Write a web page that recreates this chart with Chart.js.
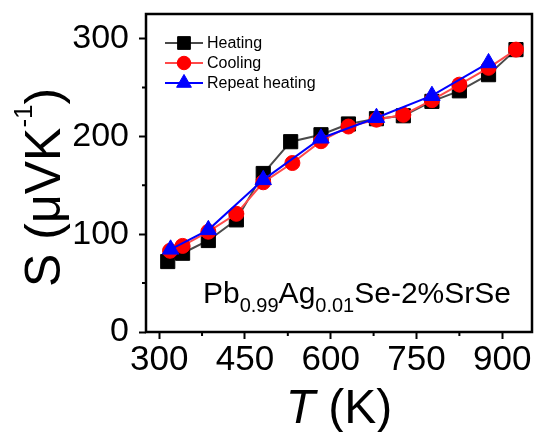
<!DOCTYPE html>
<html>
<head>
<meta charset="utf-8">
<script src="https://cdn.jsdelivr.net/npm/chart.js@4.4.1/dist/chart.umd.min.js"></script>
<style>
html,body{margin:0;padding:0;background:#fff;}
#wrap{width:538px;height:432px;}
</style>
</head>
<body>
<div id="wrap"><canvas id="c" width="538" height="432"></canvas></div>
<script>
// ---- data ----
const heatT   = [315, 341, 386, 435, 482, 530, 583, 631, 680, 727, 777, 825, 876, 924];
const heatS   = [72, 80.5, 93.5, 114.6, 162, 194.5, 201.6, 212.6, 218, 221, 235.7, 246.5, 263, 288.6];
const coolT   = [319, 341, 386, 435, 482, 533, 583, 631, 680, 727, 777, 825, 876, 924];
const coolS   = [83, 88, 102.5, 120.8, 153, 172.7, 195, 210, 217, 222, 237, 252.8, 270, 288.6];
const repT    = [320, 386, 482, 583, 680, 777, 876];
const repS    = [84.5, 104.4, 155.5, 198, 219, 241.5, 275];
const seriesNames = ['Heating', 'Cooling', 'Repeat heating'];
const xTicks = [300, 450, 600, 750, 900];
const xMinorTicks = [375, 525, 675, 825];
const yTicks = [0, 100, 200, 300];
const yMinorTicks = [50, 150, 250];

const FONT = "'Liberation Sans', Arial, sans-serif";
const pts = (xs, ys) => xs.map((x, i) => ({x: x, y: ys[i]}));

const styles = [
  {line: '#4a4a4a', fill: '#000000', style: 'rect', r: 10, order: 3},
  {line: '#ff4a4a', fill: '#ff0000', style: 'circle', r: 7.5, order: 2},
  {line: '#0000ff', fill: '#0000ff', style: 'triangle', r: 9.5, order: 1}
];
const dataSets = [pts(heatT, heatS), pts(coolT, coolS), pts(repT, repS)];

const noPad = s => { s.paddingTop = 0; s.paddingBottom = 0; s.paddingLeft = 0; s.paddingRight = 0; };

const decor = {
  id: 'decor',
  afterDraw(chart) {
    const ctx = chart.ctx;
    const a = chart.chartArea;
    const xs = chart.scales.x, ys = chart.scales.y;
    ctx.save();
    // frame
    ctx.strokeStyle = '#000';
    ctx.lineWidth = 2.5;
    ctx.strokeRect(a.left, a.top, a.right - a.left, a.bottom - a.top);
    // minor ticks
    ctx.lineWidth = 2;
    ctx.beginPath();
    yMinorTicks.forEach(v => { const p = ys.getPixelForValue(v); ctx.moveTo(a.left - 4, p); ctx.lineTo(a.left, p); });
    xMinorTicks.forEach(v => { const p = xs.getPixelForValue(v); ctx.moveTo(p, a.bottom); ctx.lineTo(p, a.bottom + 4); });
    ctx.stroke();

    // legend
    const ly = [43, 63, 83];
    seriesNames.forEach((n, i) => {
      const s = styles[i];
      ctx.strokeStyle = s.line;
      ctx.lineWidth = 2;
      ctx.beginPath(); ctx.moveTo(165, ly[i]); ctx.lineTo(203, ly[i]); ctx.stroke();
      ctx.fillStyle = s.fill; ctx.strokeStyle = s.fill; ctx.lineWidth = 1;
      Chart.helpers.drawPoint(ctx, {pointStyle: s.style, radius: s.r * 0.9, borderWidth: 1}, 184, ly[i]);
      ctx.fillStyle = '#000';
      ctx.font = '16px ' + FONT;
      ctx.textBaseline = 'middle';
      ctx.textAlign = 'left';
      ctx.fillText(n, 207, ly[i] + 1);
    });

    // sample label with subscripts
    ctx.fillStyle = '#000';
    ctx.textBaseline = 'alphabetic';
    ctx.textAlign = 'left';
    let x = 203;
    const parts = [['Pb', 30, 0], ['0.99', 20, 9], ['Ag', 30, 0], ['0.01', 20, 9], ['Se-2%SrSe', 30, 0]];
    parts.forEach(p => {
      ctx.font = p[1] + 'px ' + FONT;
      ctx.fillText(p[0], x, 303 + p[2]);
      x += ctx.measureText(p[0]).width;
    });

    // x title: italic T + (K)
    ctx.font = 'italic 48px ' + FONT;
    const wT = ctx.measureText('T').width;
    ctx.font = '48px ' + FONT;
    const wK = ctx.measureText(' (K)').width;
    const cx = (a.left + a.right) / 2;
    let sx = cx - (wT + wK) / 2;
    ctx.font = 'italic 48px ' + FONT;
    ctx.fillText('T', sx, 423);
    ctx.font = '48px ' + FONT;
    ctx.fillText(' (K)', sx + wT, 423);

    // y title rotated
    ctx.translate(60, 287);
    ctx.rotate(-Math.PI / 2);
    ctx.font = '50px ' + FONT;
    ctx.fillText('S (\u03bcVK', 0, 0);
    let w = ctx.measureText('S (\u03bcVK').width;
    ctx.font = '26px ' + FONT;
    ctx.fillText('-1', w, -28);
    w += ctx.measureText('-1').width;
    ctx.font = '50px ' + FONT;
    ctx.fillText(')', w, 0);
    ctx.restore();
  }
};

new Chart(document.getElementById('c'), {
  type: 'line',
  data: {
    datasets: dataSets.map((d, i) => ({
      label: seriesNames[i],
      data: d,
      borderColor: styles[i].line,
      backgroundColor: styles[i].fill,
      pointBackgroundColor: styles[i].fill,
      pointBorderColor: styles[i].fill,
      pointStyle: styles[i].style,
      pointRadius: styles[i].r,
      pointBorderWidth: 1,
      borderWidth: 2,
      tension: 0,
      fill: false,
      clip: false,
      order: styles[i].order
    }))
  },
  options: {
    responsive: false,
    animation: false,
    devicePixelRatio: 1,
    layout: {autoPadding: false, padding: {top: 14, right: 6, left: 0, bottom: 0}},
    plugins: {legend: {display: false}, tooltip: {enabled: false}},
    scales: {
      x: {
        type: 'linear', min: 277, max: 952,
        afterBuildTicks: s => { s.ticks = xTicks.map(v => ({value: v})); },
        afterFit: s => { s.height = 100; noPad(s); },
        border: {display: false},
        grid: {display: true, drawOnChartArea: false, tickLength: 7, tickWidth: 2, tickColor: '#000'},
        ticks: {color: '#000', font: {family: FONT, size: 35}, padding: 0, maxRotation: 0, autoSkip: false}
      },
      y: {
        type: 'linear', min: 0, max: 325,
        afterBuildTicks: s => { s.ticks = yTicks.map(v => ({value: v})); },
        afterFit: s => { s.width = 146; noPad(s); },
        border: {display: false},
        grid: {display: true, drawOnChartArea: false, tickLength: 7, tickWidth: 2, tickColor: '#000'},
        ticks: {color: '#000', font: {family: FONT, size: 34}, padding: 10, autoSkip: false}
      }
    }
  },
  plugins: [decor]
});
</script>
</body>
</html>
